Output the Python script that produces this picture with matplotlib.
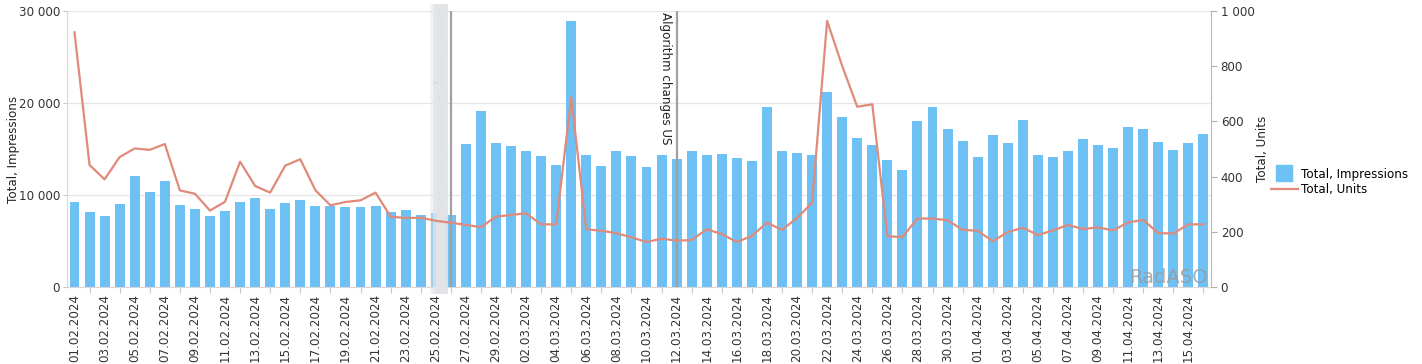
import numpy as np
import pandas as pd
import matplotlib
matplotlib.use("Agg")
import matplotlib.pyplot as plt
from matplotlib.ticker import FuncFormatter, FixedLocator
from matplotlib.lines import Line2D

dates = pd.date_range("2024-02-01", "2024-04-16", freq="D")
labels = [d.strftime("%d.%m.%Y") for d in dates]

impressions = [
    9200, 8200, 7750, 9000, 12100, 10330, 11490, 8910, 8480, 7720,
    8260, 9280, 9670, 8480, 9170, 9490, 8770, 8770, 8660, 8730,
    8800, 8150, 8370, 7830, 8000, 7830, 15510, 19100, 15650,
    15290, 14750, 14200, 13260, 28950, 14350, 13190, 14780, 14270, 13080,
    14350, 13910, 14820, 14350, 14490, 13990, 13700, 19600, 14820, 14600,
    14350, 21230, 18450, 16230, 15440, 13770, 12720, 18040, 19530, 17210,
    15840,
    14170, 16490, 15650, 18190, 14380, 14100, 14820, 16120, 15440, 15110,
    17360, 17210, 15760, 14890, 15650, 16630,
]
units = [
    923, 442, 390, 471, 502, 497, 518, 350, 338, 277,
    309, 454, 366, 342, 440, 463, 351, 296, 308, 314,
    342, 255, 250, 251, 240, 233, 225, 217, 255,
    261, 267, 227, 227, 687, 209, 204, 195, 180, 163,
    175, 168, 170, 209, 192, 163, 185, 233, 207, 250,
    305, 964, 801, 653, 662, 184, 181, 248, 248, 242,
    207,
    204, 166, 199, 215, 188, 205, 225, 210, 216, 205,
    234, 243, 195, 194, 227, 227,
]

events = {"26.02.2024": "Metadata update: new icon, title, screenshots",
          "12.03.2024": "Algorithm changes US"}

bar_color = "#6ec1f5"
line_color = "#e08a7a"
text_color = "#333333"

fig = plt.figure(figsize=(14.22, 3.64), dpi=100)
ax = fig.add_axes([0.0471, 0.2115, 0.8045, 0.7583])
ax2 = ax.twinx()

x = np.arange(len(dates))
ax.bar(x, impressions, width=0.66, color=bar_color, zorder=2)
ax2.plot(x, units, color=line_color, linewidth=1.6, zorder=3)

ax.set_xlim(-0.5, len(dates) - 0.5)
ax.set_ylim(0, 30000)
ax2.set_ylim(0, 1000)

ax.set_yticks([0, 10000, 20000, 30000])
ax2.set_yticks([0, 200, 400, 600, 800, 1000])
fmt = FuncFormatter(lambda v, p: f"{int(v):,}".replace(",", " "))
ax.yaxis.set_major_formatter(fmt)
ax2.yaxis.set_major_formatter(fmt)

ax.grid(axis="y", color="#e6e6e6", linewidth=0.9, zorder=0)
ax.set_axisbelow(True)

# labels on even days, small tick marks on odd ones
ax.xaxis.set_major_locator(FixedLocator(x[1::2]))
ax.xaxis.set_minor_locator(FixedLocator(x[::2]))
ax.set_xticklabels([])
ax.set_xticklabels(labels[::2], minor=True, rotation=90, fontsize=8.6, color=text_color)
ax.tick_params(axis="x", which="major", length=4, color="#c8c8c8")
ax.tick_params(axis="x", which="minor", length=0, pad=5)

ax.tick_params(axis="y", length=3, color="#c8c8c8", labelsize=8.6, labelcolor=text_color, pad=2)
ax2.tick_params(axis="y", length=4, color="#b0b0b0", labelsize=8.6, labelcolor=text_color, pad=3)

ax.spines["top"].set_visible(False)
ax2.spines["top"].set_visible(False)
ax.spines["left"].set_color("#d8d8d8")
ax.spines["bottom"].set_color("#d8d8d8")
ax.spines["right"].set_visible(False)
ax2.spines["left"].set_visible(False)
ax2.spines["bottom"].set_visible(False)
ax2.spines["right"].set_color("#b8b8b8")

ax.set_ylabel("Total, Impressions", fontsize=8.6, color="#222222", labelpad=-1)
ax2.set_ylabel("Total, Units", fontsize=8.6, color="#222222", labelpad=1)

# event markers
for d, txt in events.items():
    i = labels.index(d)
    ax.axvline(i, color="#a0a0a0", linewidth=1.6, zorder=4)
    ax.text(i - 0.3, 0.995, txt, transform=ax.get_xaxis_transform(), rotation=270,
            ha="right", va="top", fontsize=8.6, color="#222222", zorder=4)

# blurred strip covering the first event label
i0 = labels.index("26.02.2024")
for k, a in enumerate([0.45, 0.85, 1.0, 1.0, 1.0, 1.0, 0.9]):
    ax.axvspan(i0 - 1.35 + k * 0.17, i0 - 1.35 + (k + 1) * 0.17, ymin=-0.025, ymax=1.025,
               color="#e1e3e6", alpha=a, linewidth=0, zorder=6, clip_on=False)

ax.text(0.997, 0.0, "RadASO", transform=ax.transAxes, ha="right", va="bottom",
        fontsize=14, color="#9a9a9a", alpha=0.8, zorder=7)

handles = [Line2D([], [], marker="s", markersize=11, linestyle="none", color=bar_color),
           Line2D([], [], color=line_color, linewidth=1.6)]
fig.legend(handles, ["Total, Impressions", "Total, Units"], loc="center left",
           bbox_to_anchor=(0.886, 0.5), frameon=False, fontsize=8.6,
           handlelength=2.3, handletextpad=0.2, labelspacing=0.25)

fig.savefig("out.png", dpi=100)
